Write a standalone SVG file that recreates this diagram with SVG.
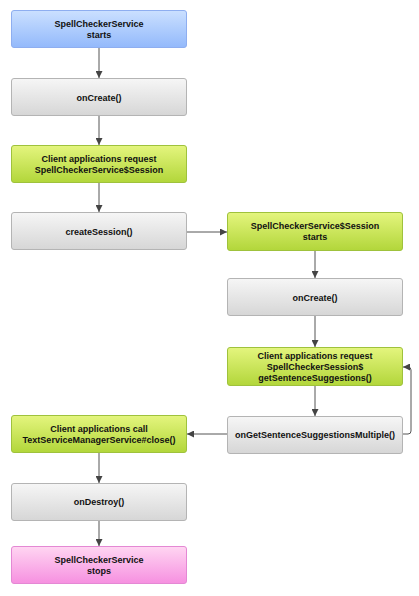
<svg xmlns="http://www.w3.org/2000/svg" width="419" height="596" viewBox="0 0 419 596">
<defs>
<linearGradient id="gBlue" x1="0" y1="0" x2="0" y2="1"><stop offset="0" stop-color="#cbe0ff"/><stop offset="1" stop-color="#93b9fb"/></linearGradient>
<linearGradient id="gGrey" x1="0" y1="0" x2="0" y2="1"><stop offset="0" stop-color="#f6f6f6"/><stop offset="1" stop-color="#d6d6d6"/></linearGradient>
<linearGradient id="gGreen" x1="0" y1="0" x2="0" y2="1"><stop offset="0" stop-color="#e4f57e"/><stop offset="1" stop-color="#b2d63a"/></linearGradient>
<linearGradient id="gPink" x1="0" y1="0" x2="0" y2="1"><stop offset="0" stop-color="#ffd6f2"/><stop offset="1" stop-color="#f690e0"/></linearGradient>
<marker id="arr" viewBox="0 0 10 10" refX="10" refY="5" markerWidth="7" markerHeight="7" markerUnits="userSpaceOnUse" orient="auto"><path d="M0,0 L10,5 L0,10 z" fill="#444"/></marker>
</defs>
<style>
rect{stroke-width:1;}
.blue{fill:url(#gBlue);stroke:#8eaef0;}
.grey{fill:url(#gGrey);stroke:#b4b4b4;}
.green{fill:url(#gGreen);stroke:#9fc23c;}
.pink{fill:url(#gPink);stroke:#e488d4;}
text{font-family:"Liberation Sans",Arial,sans-serif;font-weight:bold;font-size:9px;fill:#111;text-anchor:middle;}
.c{fill:none;stroke:#555;stroke-width:1;marker-end:url(#arr);}
</style>
<g id="connectors">
<path class="c" d="M99,48 V78"/>
<path class="c" d="M99,116 V145"/>
<path class="c" d="M99,183 V212"/>
<path class="c" d="M187,232 H227"/>
<path class="c" d="M315,251 V278"/>
<path class="c" d="M315,316 V347"/>
<path class="c" d="M315,385 V416"/>
<path class="c" d="M227,434 H187"/>
<path class="c" d="M403,434 H408 Q411,434 411,431 V370 Q411,367 408,367 H403"/>
<path class="c" d="M99,453 V483"/>
<path class="c" d="M99,521 V546"/>
</g>
<g id="n1"><rect class="blue" x="11.5" y="10.5" width="175" height="37" rx="2.5"/><text x="99" y="27">SpellCheckerService</text><text x="99" y="38">starts</text></g>
<g id="n2"><rect class="grey" x="11.5" y="78.5" width="175" height="37" rx="2.5"/><text x="99" y="100.5">onCreate()</text></g>
<g id="n3"><rect class="green" x="11.5" y="145.5" width="175" height="37" rx="2.5"/><text x="99" y="162">Client applications request</text><text x="99" y="173">SpellCheckerService$Session</text></g>
<g id="n4"><rect class="grey" x="11.5" y="212.5" width="175" height="37" rx="2.5"/><text x="99" y="234.5">createSession()</text></g>
<g id="n5"><rect class="green" x="227.5" y="212.5" width="175" height="38" rx="2.5"/><text x="315" y="229">SpellCheckerService$Session</text><text x="315" y="240">starts</text></g>
<g id="n6"><rect class="grey" x="227.5" y="278.5" width="175" height="37" rx="2.5"/><text x="315" y="300.5">onCreate()</text></g>
<g id="n7"><rect class="green" x="227.5" y="347.5" width="175" height="38" rx="2.5"/><text x="315" y="358.5">Client applications request</text><text x="315" y="369.5">SpellCheckerSession$</text><text x="315" y="380.5">getSentenceSuggestions()</text></g>
<g id="n8"><rect class="grey" x="227.5" y="416.5" width="175" height="37" rx="2.5"/><text x="315" y="438">onGetSentenceSuggestionsMultiple()</text></g>
<g id="n9"><rect class="green" x="11.5" y="415.5" width="175" height="37" rx="2.5"/><text x="99" y="432">Client applications call</text><text x="99" y="443">TextServiceManagerService#close()</text></g>
<g id="n10"><rect class="grey" x="11.5" y="483.5" width="175" height="37" rx="2.5"/><text x="99" y="505">onDestroy()</text></g>
<g id="n11"><rect class="pink" x="11.5" y="546.5" width="175" height="37" rx="2.5"/><text x="99" y="563">SpellCheckerService</text><text x="99" y="574">stops</text></g>
</svg>
